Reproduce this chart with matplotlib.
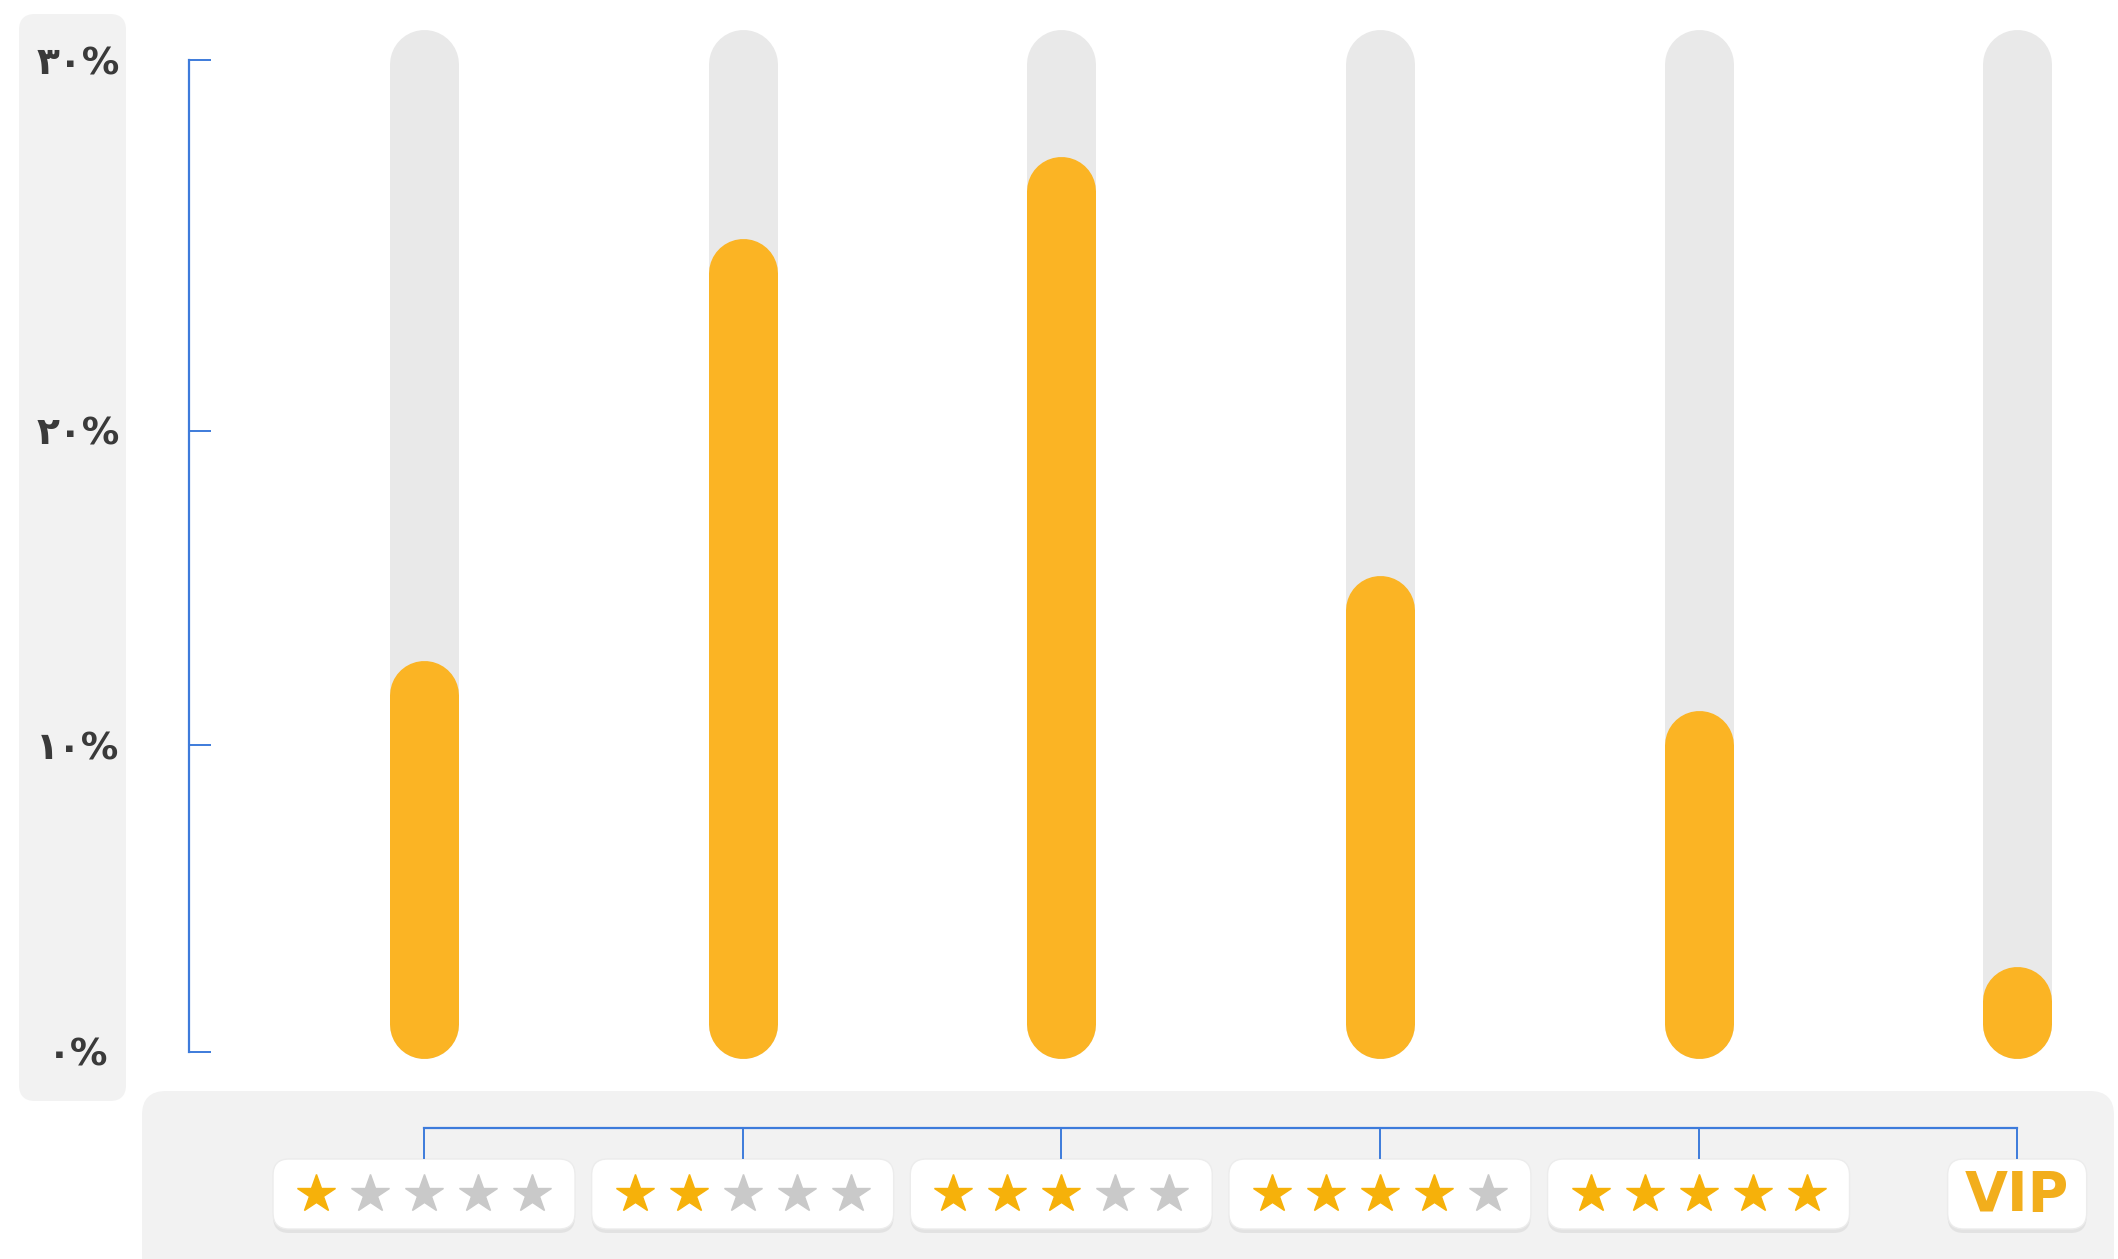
import numpy as np
import matplotlib
matplotlib.use('Agg')
import matplotlib.pyplot as plt
from matplotlib.patches import FancyBboxPatch

# data
categories = ['1 star', '2 stars', '3 stars', '4 stars', '5 stars', 'VIP']
star_counts = [1, 2, 3, 4, 5, 0]
values = [12.7, 25.2, 27.4, 15.4, 11.1, 2.8]
y_ticks = [0, 10, 20, 30]
y_tick_labels = ['۰%', '۱۰%', '۲۰%', '۳۰%']
track_max = 30.85

# colours
ORANGE = '#FBB424'
TRACK = '#E9E9E9'
BLUE = '#3D7BDB'
PANEL = '#F2F2F2'
GOLD = '#F6B10A'
GREY_STAR = '#C9C9C9'

W, H = 2118, 1259

# the original axis is not evenly spaced, so use a piecewise scale
knots_val = [0, 10, 20, 30]
knots_pos = [0, 306.7, 621.4, 991.5]
slope_lo = knots_pos[1] / knots_val[1]
slope_hi = (knots_pos[3] - knots_pos[2]) / (knots_val[3] - knots_val[2])


def fwd(v):
    v = np.asarray(v, dtype=float)
    out = np.interp(v, knots_val, knots_pos)
    out = np.where(v < knots_val[0], v * slope_lo, out)
    out = np.where(v > knots_val[-1], knots_pos[-1] + (v - knots_val[-1]) * slope_hi, out)
    return out


def inv(p):
    p = np.asarray(p, dtype=float)
    out = np.interp(p, knots_pos, knots_val)
    out = np.where(p < knots_pos[0], p / slope_lo, out)
    out = np.where(p > knots_pos[-1], knots_val[-1] + (p - knots_pos[-1]) / slope_hi, out)
    return out


fig = plt.figure(figsize=(W / 100, H / 100), dpi=100)

# background layer in pixel units (panels, bottom labels)
ax_bg = fig.add_axes([0, 0, 1, 1], zorder=0)
ax_bg.set_xlim(0, W)
ax_bg.set_ylim(H, 0)
ax_bg.axis('off')

# main chart
ax = fig.add_axes([189 / W, (H - 1075) / H, (2100 - 189) / W, (1075 - 20) / H], zorder=1)
ax.patch.set_alpha(0)
ax.set_yscale('function', functions=(fwd, inv))
ax.set_ylim(-0.75, float(inv(1032)))
ax.set_xlim(-0.7376, 5.26)

for s in ['top', 'right', 'bottom']:
    ax.spines[s].set_visible(False)
ax.spines['left'].set_color(BLUE)
ax.spines['left'].set_linewidth(1.6)
ax.spines['left'].set_bounds(0, 30)
ax.set_xticks([])
ax.set_yticks(y_ticks, y_tick_labels)
ax.tick_params(axis='y', direction='in', length=16, width=1.4, color=BLUE,
               pad=80, labelsize=27, labelcolor='#3a3a3a')
for lbl in ax.get_yticklabels():
    lbl.set_ha('center')
    lbl.set_family(['DejaVu Sans'])
    lbl.set_fontweight('bold')

# rounded bars drawn as thick lines with round caps
bar_w = 69
lw = bar_w * 72 / fig.dpi


def capsule(x, y0, y1, color, z):
    xd, p0 = ax.transData.transform((x, y0))
    _, p1 = ax.transData.transform((x, y1))
    r = bar_w / 2
    ends = ax.transData.inverted().transform([(xd, p0 + r), (xd, p1 - r)])
    ax.plot([x, x], ends[:, 1], color=color, lw=lw, solid_capstyle='round', zorder=z)


x = np.arange(len(categories))
for i, v in enumerate(values):
    capsule(x[i], -0.2, track_max, TRACK, 2)
    capsule(x[i], -0.2, v, ORANGE, 3)

# panels behind the axis labels
ax_bg.add_patch(FancyBboxPatch((19, 14), 107, 1087, boxstyle='round,pad=0,rounding_size=16',
                               fc=PANEL, ec='none'))
ax_bg.add_patch(FancyBboxPatch((142, 1091), 1972, 190, boxstyle='round,pad=0,rounding_size=24',
                               fc=PANEL, ec='none'))

# bracket linking bars to their labels
xs = ax.transData.transform(np.c_[x, np.zeros(len(x))])[:, 0]
ax_bg.plot([xs[0], xs[-1]], [1128, 1128], color=BLUE, lw=1.6)
for xp in xs:
    ax_bg.plot([xp, xp], [1128, 1158], color=BLUE, lw=1.4)

# category labels: star ratings and VIP
for i, n in enumerate(star_counts):
    cx = xs[i]
    bw = 302 if categories[i] != 'VIP' else 139
    ax_bg.add_patch(FancyBboxPatch((cx - bw / 2, 1163), bw, 70,
                                   boxstyle='round,pad=0,rounding_size=16',
                                   fc='#DCDCDC', ec='none', alpha=0.7))
    ax_bg.add_patch(FancyBboxPatch((cx - bw / 2, 1159), bw, 70,
                                   boxstyle='round,pad=0,rounding_size=16',
                                   fc='white', ec='#ECECEC', lw=1))
    if categories[i] == 'VIP':
        ax_bg.text(cx, 1196, 'VIP', ha='center', va='center', fontsize=40,
                   fontweight='bold', color='#F2AE1C')
    else:
        for j in range(5):
            c = GOLD if j < n else GREY_STAR
            ax_bg.plot(cx + (j - 2) * 54, 1194, marker='*', ms=29, color=c, mec=c)

fig.savefig('out.png', dpi=100)
